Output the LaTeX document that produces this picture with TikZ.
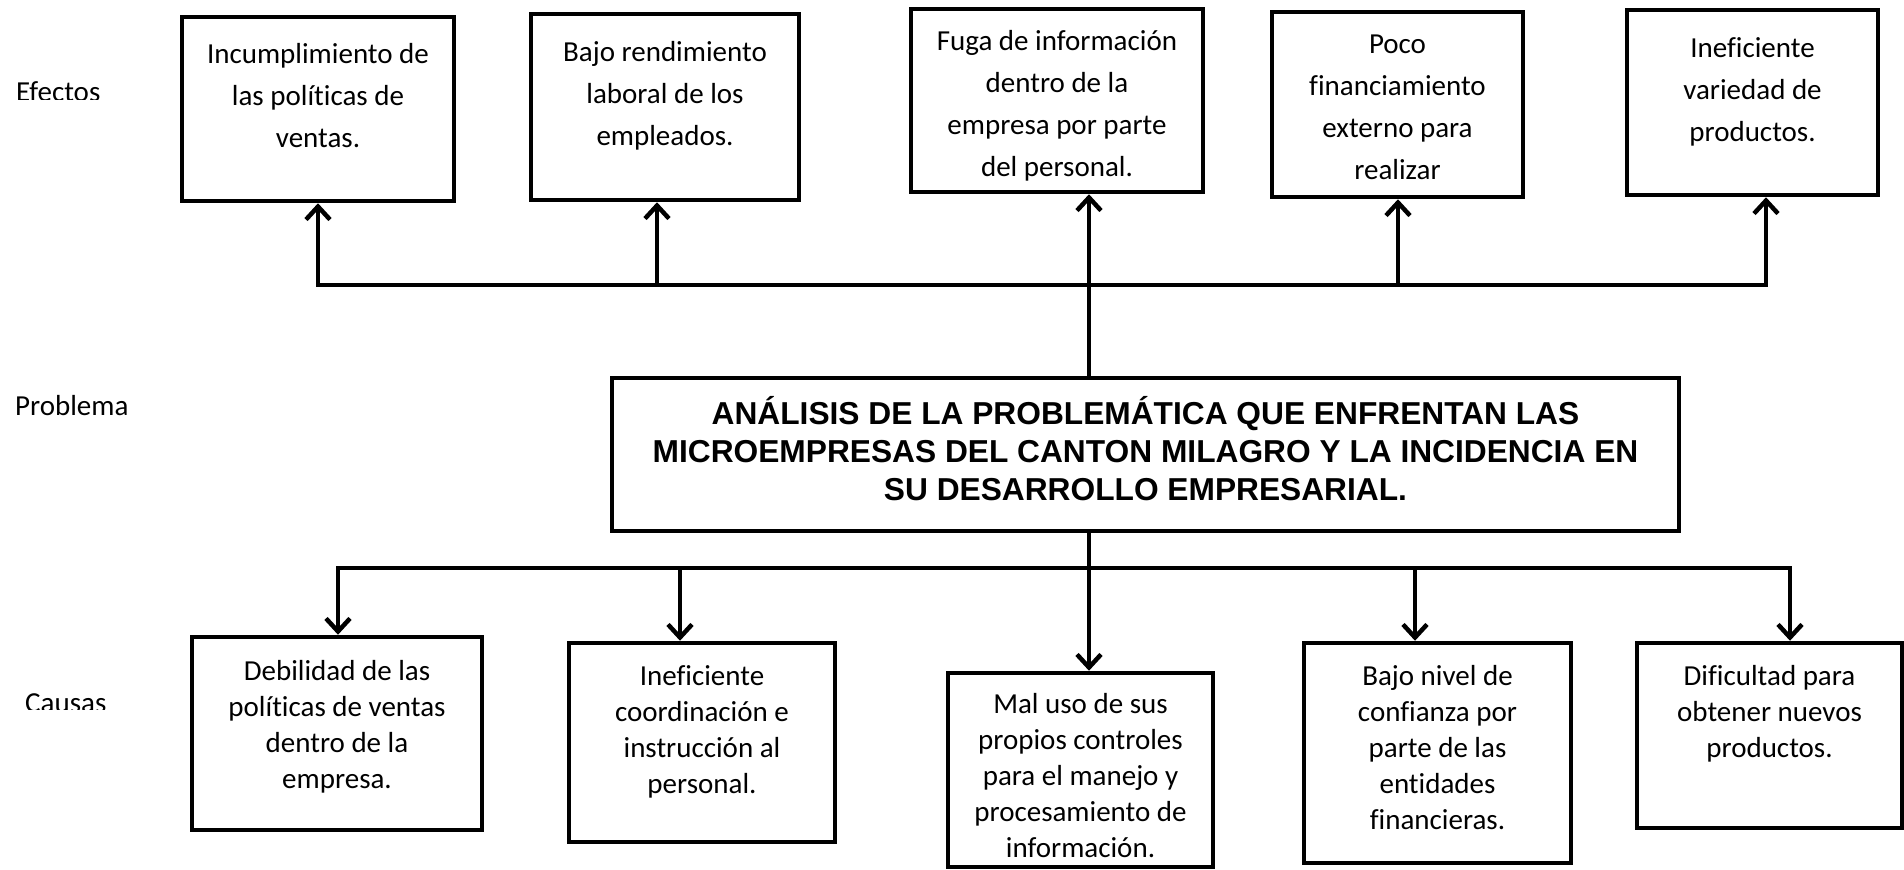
\documentclass[tikz,border=0pt]{standalone}
\usepackage{fontspec}
\setmainfont{Carlito}[Ligatures=NoCommon]
\newfontfamily\titlefont{Liberation Sans}
\usetikzlibrary{arrows.meta}
\tikzset{
  box/.style={draw=black, line width=4.5pt, rectangle, inner sep=0pt},
  etxt/.style={font=\fontsize{29}{42}\selectfont, align=center, inner sep=0pt, anchor=north},
  ctxt/.style={font=\fontsize{29}{36}\selectfont, align=center, inner sep=0pt, anchor=north},
  side/.style={font=\fontsize{29}{35}\selectfont, inner sep=0pt, anchor=base west},
  ttxt/.style={font=\titlefont\bfseries\fontsize{31.7}{38}\selectfont, align=center, inner sep=0pt, anchor=north},
  conn/.style={line width=4.5pt, line join=miter},
  arr/.style={conn, -{Straight Barb[length=13pt,width=24pt]}},
  arrboth/.style={conn, {Straight Barb[length=13pt,width=24pt]}-{Straight Barb[length=13pt,width=24pt]}},
}
\begin{document}
\begin{tikzpicture}[x=1pt,y=-1pt]
\useasboundingbox (0,0) rectangle (1904,870);

% side labels
\begin{scope}
  \clip (0,0) rectangle (200,99);
  \node[side] (lblE) at (16,101) {Efectos};
\end{scope}
\node[side] (lblP) at (15,415) {Problema};
\begin{scope}
  \clip (0,600) rectangle (200,709);
  \node[side] (lblC) at (25,712) {Causas};
\end{scope}

% effect boxes
\node[box, minimum width=272pt, minimum height=184pt] (e1) at (318,109) {};
\node[box, minimum width=268pt, minimum height=186pt] (e2) at (665,107) {};
\node[box, minimum width=292pt, minimum height=183pt] (e3) at (1057,100.5) {};
\node[box, minimum width=251pt, minimum height=185pt] (e4) at (1397.5,104.5) {};
\node[box, minimum width=251pt, minimum height=185pt] (e5) at (1752.5,102.5) {};

\node[etxt] (e1t) at (318,33.6) {\strut Incumplimiento de\\las políticas de\\ventas.};
\node[etxt] (e2t) at (665,31.6) {\strut Bajo rendimiento\\laboral de los\\empleados.};
\node[etxt] (e3t) at (1057,20.6) {\strut Fuga de información\\dentro de la\\empresa por parte\\del personal.};
\node[etxt] (e4t) at (1397.5,23.6) {\strut Poco\\financiamiento\\externo para\\realizar};
\node[etxt] (e5t) at (1752.5,27.6) {\strut Ineficiente\\variedad de\\productos.};

% problem box
\node[box, minimum width=1067pt, minimum height=153pt] (title) at (1145.5,454.5) {};
\node[ttxt] (titlet) at (1145.5,396.4) {\strut ANÁLISIS DE LA PROBLEMÁTICA QUE ENFRENTAN LAS\\MICROEMPRESAS DEL CANTON MILAGRO Y LA INCIDENCIA EN\\SU DESARROLLO EMPRESARIAL.};

% cause boxes
\node[box, minimum width=290pt, minimum height=193pt] (c1) at (337,733.5) {};
\node[box, minimum width=266pt, minimum height=199pt] (c2) at (702,742.5) {};
\node[box, minimum width=265pt, minimum height=194pt] (c3) at (1080.5,770) {};
\node[box, minimum width=267pt, minimum height=220pt] (c4) at (1437.5,753) {};
\node[box, minimum width=265pt, minimum height=185pt] (c5) at (1769.5,735.5) {};

\node[ctxt] (c1t) at (337,654.8) {\strut Debilidad de las\\políticas de ventas\\dentro de la\\empresa.};
\node[ctxt] (c2t) at (702,659.8) {\strut Ineficiente\\coordinación e\\instrucción al\\personal.};
\node[ctxt] (c3t) at (1080.5,687.8) {\strut Mal uso de sus\\propios controles\\para el manejo y\\procesamiento de\\información.};
\node[ctxt] (c4t) at (1437.5,659.8) {\strut Bajo nivel de\\confianza por\\parte de las\\entidades\\financieras.};
\node[ctxt] (c5t) at (1769.5,659.8) {\strut Dificultad para\\obtener nuevos\\productos.};

% connector x positions and bus levels
\coordinate (busE) at (0,285);
\coordinate (busC) at (0,568);
\coordinate (xe1) at (318,0);
\coordinate (xe2) at (657,0);
\coordinate (xe3) at (1089,0);
\coordinate (xe4) at (1398,0);
\coordinate (xe5) at (1766,0);
\coordinate (xc1) at (338,0);
\coordinate (xc2) at (680,0);
\coordinate (xc3) at (1089,0);
\coordinate (xc4) at (1415,0);
\coordinate (xc5) at (1790,0);

% effects connectors
\draw[arrboth] (xe1 |- e1.south) -- (xe1 |- busE) -- (xe5 |- busE) -- (xe5 |- e5.south);
\draw[arr] (xe2 |- busE) -- (xe2 |- e2.south);
\draw[arr] (xe4 |- busE) -- (xe4 |- e4.south);
\draw[arr] (xe3 |- title.north) -- (xe3 |- e3.south);

% causes connectors
\draw[arrboth] (xc1 |- c1.north) -- (xc1 |- busC) -- (xc5 |- busC) -- (xc5 |- c5.north);
\draw[arr] (xc2 |- busC) -- (xc2 |- c2.north);
\draw[arr] (xc4 |- busC) -- (xc4 |- c4.north);
\draw[arr] (xc3 |- title.south) -- (xc3 |- c3.north);
\end{tikzpicture}
\end{document}
